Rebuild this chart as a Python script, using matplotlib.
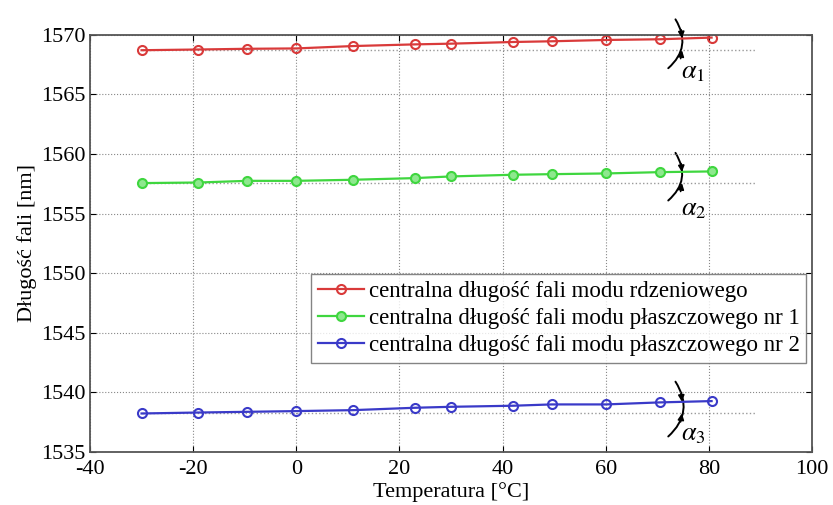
import matplotlib
matplotlib.use('Agg')
import numpy as np
import matplotlib.pyplot as plt
from matplotlib.patches import FancyArrowPatch

# temperatures [C]
temp = [-30, -19, -9.5, 0, 11, 23, 30, 42, 49.5, 60, 70.5, 80.5]
# central wavelengths [nm]
core = [1568.71, 1568.77, 1568.83, 1568.86, 1569.06, 1569.20, 1569.26, 1569.40, 1569.46, 1569.57, 1569.63, 1569.77]
clad1 = [1557.56, 1557.61, 1557.75, 1557.75, 1557.84, 1557.98, 1558.12, 1558.26, 1558.31, 1558.37, 1558.48, 1558.54]
clad2 = [1538.23, 1538.31, 1538.37, 1538.43, 1538.51, 1538.71, 1538.79, 1538.88, 1538.99, 1538.99, 1539.16, 1539.27]

labels = ['centralna długość fali modu rdzeniowego',
          'centralna długość fali modu płaszczowego nr 1',
          'centralna długość fali modu płaszczowego nr 2']
colors = ['#d93a3a', '#3fd63f', '#3a3ac8']
faces = ['none', '#8ee88e', 'none']
alpha_names = [r'$\alpha_1$', r'$\alpha_2$', r'$\alpha_3$']
# arc ends (top, bottom) and label height for each angle mark
arc_top = [1571.3, 1560.1, 1540.9]
arc_bot = [1567.2, 1556.1, 1536.3]
alpha_y = [1566.8, 1555.3, 1536.4]

plt.rcParams['font.family'] = ['Liberation Serif', 'DejaVu Serif']
plt.rcParams['mathtext.fontset'] = 'stix'
plt.rcParams['axes.unicode_minus'] = False

fig = plt.figure(figsize=(8.33, 5.05), dpi=100)
ax = fig.add_axes([0.108, 0.105, 0.867, 0.826])

series = [core, clad1, clad2]
for s, c, f, l in zip(series, colors, faces, labels):
    ax.plot(temp, s, '-o', color=c, lw=1.6, ms=6.5, mfc=f, mew=1.5, label=l)
    # horizontal reference line at the starting wavelength
    ax.plot([temp[0], 89], [s[0], s[0]], ':', color='#999999', lw=1.0, zorder=1)

# angle marks: ")" shaped arc with arrowheads pointing at both lines
for s, yt, yb, ya, name in zip(series, arc_top, arc_bot, alpha_y, alpha_names):
    arc = FancyArrowPatch((73.5, yt), (72.1, yb), connectionstyle='arc3,rad=-0.42',
                          arrowstyle='-', lw=1.4, color='black',
                          clip_on=False, shrinkA=0, shrinkB=0)
    ax.add_patch(arc)
    y_line = s[-1] - 0.05
    ax.annotate('', xy=(74.75, y_line), xytext=(74.6, y_line + 0.7),
                arrowprops=dict(arrowstyle='-|>', color='black', lw=1.2,
                                mutation_scale=9, shrinkA=0, shrinkB=0))
    ax.annotate('', xy=(74.75, s[0]), xytext=(74.5, s[0] - 0.7),
                arrowprops=dict(arrowstyle='-|>', color='black', lw=1.2,
                                mutation_scale=9, shrinkA=0, shrinkB=0))
    ax.text(74.5, ya, name, fontsize=19, va='center', ha='left')

ax.set_xlim(-40, 100)
ax.set_ylim(1535, 1570)
ax.set_xticks(np.arange(-40, 101, 20))
ax.set_yticks(np.arange(1535, 1571, 5))
ax.grid(True, linestyle=':', color='#888888', lw=0.8)
ax.tick_params(direction='in', top=True, right=True, labelsize=16, length=4, pad=3)
ax.tick_params(axis='x', pad=6)
for sp in ax.spines.values():
    sp.set_color('#555555')
    sp.set_linewidth(1.3)

ax.set_xlabel('Temperatura [°C]', fontsize=16, labelpad=2)
ax.set_ylabel('Długość fali [nm]', fontsize=16, labelpad=3)

leg = ax.legend(loc='lower right', bbox_to_anchor=(0.992, 0.214), fontsize=16.5,
                frameon=True, fancybox=False, edgecolor='#666666',
                handlelength=2.0, handletextpad=0.2, borderpad=0.3, labelspacing=0.25,
                borderaxespad=0)
leg.get_frame().set_linewidth(1.0)

plt.savefig('out.png', dpi=100)
